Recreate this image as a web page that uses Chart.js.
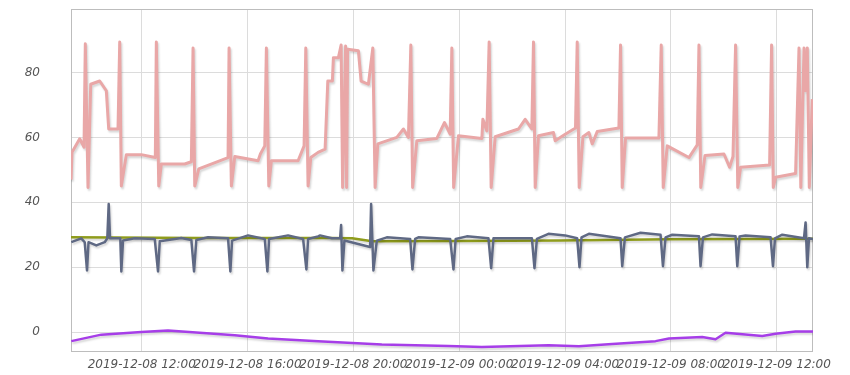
<!DOCTYPE html>
<html>
<head>
<meta charset="utf-8">
<script src="https://cdn.jsdelivr.net/npm/chart.js@4"></script>
<style>
  body { margin: 0; background: #fff; }
</style>
</head>
<body>
<canvas id="chart" width="850" height="375"></canvas>
<script>
// time axis = hours since 2019-12-08 00:00
const tickHours = [12, 16, 20, 24, 28, 32, 36];
const tickLabels = ['2019-12-08 12:00', '2019-12-08 16:00', '2019-12-08 20:00', '2019-12-09 00:00',
  '2019-12-09 04:00', '2019-12-09 08:00', '2019-12-09 12:00'];
const yTicks = [0, 20, 40, 60, 80];

const pinkHours = [
  9.33, 9.365, 9.656, 9.819, 9.868, 9.97, 10.072, 10.412, 10.662, 10.752,
  11.104, 11.168, 11.229, 11.418, 11.985, 12.514, 12.552, 12.643, 12.741, 13.626,
  13.875, 13.94, 14.004, 14.155, 15.263, 15.301, 15.388, 15.516, 16.397, 16.484,
  16.65, 16.711, 16.802, 16.9, 17.909, 18.136, 18.2, 18.287, 18.389, 18.665,
  18.93, 19.032, 19.206, 19.244, 19.433, 19.535, 19.592, 19.705, 19.743, 19.781,
  20.189, 20.291, 20.567, 20.733, 20.82, 20.922, 21.641, 21.89, 22.079, 22.17,
  22.238, 22.397, 23.153, 23.44, 23.656, 23.72, 23.788, 23.97, 24.855, 24.892,
  25.043, 25.13, 25.206, 25.357, 26.238, 26.491, 26.744, 26.805, 26.87, 26.994,
  27.561, 27.625, 28.004, 28.393, 28.458, 28.533, 28.673, 28.9, 29.025, 29.214,
  30.034, 30.095, 30.159, 30.284, 31.546, 31.633, 31.709, 31.86, 32.681, 32.995,
  33.059, 33.127, 33.286, 34.004, 34.216, 34.345, 34.443, 34.526, 34.632, 35.729,
  35.804, 35.868, 35.955, 36.711, 36.84, 36.908, 37.029, 37.078, 37.154, 37.229,
  37.342
];
const pinkValues = [
  47, 55.4, 59.6, 57, 88.9, 44.6, 76.4, 77.4, 74.4, 62.6,
  62.6, 89.4, 45, 54.7, 54.7, 53.8, 89.4, 45, 51.8, 51.8,
  52.5, 87.6, 45, 50.3, 53.8, 87.6, 45, 54.1, 52.8, 54.9,
  57.4, 87.6, 45, 52.8, 52.8, 57.4, 87.6, 45, 53.8, 55.4,
  56.4, 77.4, 77.4, 84.6, 84.6, 88.5, 44.6, 88.2, 44.6, 87.2,
  86.7, 77.4, 76.4, 87.6, 44.6, 58, 60, 62.6, 60, 88.5,
  44.6, 59, 59.7, 64.6, 61, 87.6, 44.6, 60.5, 59.7, 65.6,
  62, 89.4, 44.6, 60.2, 62.6, 65.6, 62.6, 89.4, 44.6, 60.5,
  61.5, 59, 61, 62.9, 89.4, 44.6, 60.2, 61.5, 58, 61.8,
  62.9, 88.5, 44.6, 59.8, 59.8, 88.5, 44.6, 57.4, 53.8, 57.7,
  88.5, 44.6, 54.4, 54.9, 50.8, 54.1, 88.5, 44.6, 50.8, 51.5,
  88.5, 44.6, 47.7, 48.9, 87.6, 44.6, 87.6, 74.4, 87.6, 44.6,
  71.8
];

const slateHours = [
  9.338, 9.716, 9.845, 9.932, 9.989, 10.284, 10.601, 10.699, 10.752, 10.802,
  11.19, 11.229, 11.293, 11.735, 12.491, 12.616, 12.681, 13.497, 13.875, 13.977,
  14.064, 14.507, 15.263, 15.35, 15.414, 16.019, 16.65, 16.749, 16.813, 17.531,
  18.098, 18.223, 18.287, 18.665, 18.741, 19.183, 19.497, 19.535, 19.584, 19.66,
  20.631, 20.669, 20.756, 20.885, 21.263, 22.144, 22.231, 22.333, 22.457, 23.656,
  23.781, 23.864, 24.287, 25.104, 25.206, 25.293, 26.745, 26.843, 26.934, 27.372,
  28.004, 28.457, 28.544, 28.62, 28.9, 30.095, 30.159, 30.261, 30.851, 31.607,
  31.698, 31.796, 32.049, 33.059, 33.119, 33.21, 33.561, 34.442, 34.507, 34.594,
  34.82, 35.766, 35.856, 35.932, 36.208, 37.028, 37.089, 37.153, 37.217, 37.369
];
const slateValues = [
  27.7, 28.9, 27.7, 19.0, 27.7, 26.7, 27.7, 28.9, 39.5, 28.9,
  28.9, 18.7, 28.2, 28.9, 28.7, 18.7, 28.0, 29.0, 28.4, 18.7,
  28.4, 29.2, 28.9, 18.7, 28.2, 29.8, 28.7, 18.7, 28.7, 29.8,
  28.7, 19.3, 28.7, 29.5, 29.8, 28.9, 28.9, 33.0, 19.0, 28.2,
  26.2, 39.5, 19.0, 28.2, 29.2, 28.7, 19.3, 28.7, 29.2, 28.7,
  19.3, 28.7, 29.5, 28.9, 19.7, 28.9, 28.9, 19.7, 28.7, 30.3,
  29.8, 28.9, 20.0, 29.2, 30.3, 28.9, 20.3, 29.2, 30.6, 30.0,
  20.3, 29.2, 30.0, 29.5, 20.3, 29.2, 30.1, 29.5, 20.3, 29.5,
  29.8, 29.2, 20.3, 28.9, 30.0, 28.9, 33.8, 20.0, 28.9, 28.7
];

const oliveHours = [9.327, 14.204, 19.119, 19.951, 20.707, 24.034, 27.815, 31.974, 37.369];
const oliveValues = [29.2, 29.0, 29.0, 28.9, 28.0, 28.1, 28.2, 28.6, 28.8];

const purpleHours = [9.338, 10.473, 11.985, 12.994, 15.516, 16.775, 18.665, 21.074, 23.592, 24.855,
  27.372, 28.522, 29.781, 31.418, 31.924, 33.183, 33.686, 34.064, 35.452, 35.955, 36.711, 37.369];
const purpleValues = [-2.8, -0.8, 0, 0.5, -1.0, -2.0, -2.8, -3.8, -4.3, -4.6,
  -4.1, -4.4, -3.7, -2.8, -2.0, -1.5, -2.2, -0.2, -1.2, -0.5, 0.2, 0.2];

function points(hours, values) {
  return hours.map((h, i) => ({ x: h, y: values[i] }));
}

const shadowPlugin = {
  id: 'shadow',
  beforeDatasetDraw(chart) {
    const ctx = chart.ctx;
    ctx.save();
    ctx.shadowColor = 'rgba(0,0,0,0.16)';
    ctx.shadowOffsetX = 1.2;
    ctx.shadowOffsetY = 2;
    ctx.shadowBlur = 2;
  },
  afterDatasetDraw(chart) {
    chart.ctx.restore();
  }
};

const framePlugin = {
  id: 'frame',
  beforeDatasetsDraw(chart) {
    const a = chart.chartArea;
    const ctx = chart.ctx;
    ctx.save();
    ctx.strokeStyle = '#bdbdbd';
    ctx.lineWidth = 1;
    ctx.strokeRect(Math.round(a.left) + 0.5, Math.round(a.top) + 0.5,
      Math.round(a.right - a.left) - 1, Math.round(a.bottom - a.top) - 1);
    ctx.restore();
  }
};

const tickFont = { family: 'DejaVu Sans', size: 12, style: 'italic' };

new Chart(document.getElementById('chart'), {
  type: 'line',
  data: {
    datasets: [
      { data: points(pinkHours, pinkValues), borderColor: '#e9a7a7', borderWidth: 3, order: 1 },
      { data: points(slateHours, slateValues), borderColor: '#5f6984', borderWidth: 2.5, order: 2 },
      { data: points(oliveHours, oliveValues), borderColor: '#8f9c1c', borderWidth: 2.5, order: 3 },
      { data: points(purpleHours, purpleValues), borderColor: '#a63ee8', borderWidth: 2.5, order: 4 }
    ]
  },
  options: {
    responsive: false,
    animation: false,
    parsing: false,
    layout: { padding: { top: 9, right: 37, left: 0, bottom: 0 } },
    elements: {
      point: { radius: 0 },
      line: { tension: 0, borderJoinStyle: 'round', fill: false }
    },
    plugins: { legend: { display: false }, tooltip: { enabled: false } },
    scales: {
      x: {
        type: 'linear',
        min: 9.327,
        max: 37.369,
        afterBuildTicks: (scale) => { scale.ticks = tickHours.map(v => ({ value: v })); },
        afterFit: (scale) => { scale.height = 23; scale.paddingLeft = 0; },
        grid: { color: '#dcdcdc', drawTicks: false },
        border: { display: false },
        ticks: {
          autoSkip: false,
          maxRotation: 0,
          padding: 6,
          color: '#555',
          font: tickFont,
          callback: (v) => tickLabels[tickHours.indexOf(v)]
        }
      },
      y: {
        min: -6.15,
        max: 99.6,
        afterBuildTicks: (scale) => { scale.ticks = yTicks.map(v => ({ value: v })); },
        afterFit: (scale) => { scale.width = 71; scale.paddingTop = 0; scale.paddingBottom = 0; },
        grid: { color: '#dcdcdc', drawTicks: false },
        border: { display: false },
        ticks: { padding: 31, color: '#555', font: tickFont }
      }
    }
  },
  plugins: [shadowPlugin, framePlugin]
});
</script>
</body>
</html>
